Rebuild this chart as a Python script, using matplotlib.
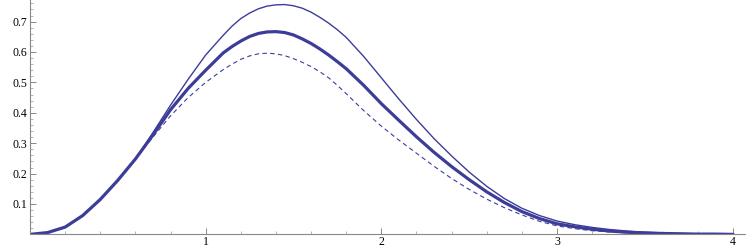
import numpy as np
import matplotlib
matplotlib.use("Agg")
import matplotlib.pyplot as plt
from matplotlib.ticker import MultipleLocator, FixedLocator

# sample points (denser around the peaks)
x = [0.0, 0.1, 0.2, 0.3, 0.4, 0.5, 0.6, 0.7, 0.8, 0.9, 1.0,
     1.1, 1.15, 1.2, 1.25, 1.3, 1.35, 1.4, 1.45, 1.5, 1.55, 1.6, 1.65,
     1.7, 1.75, 1.8,
     1.9, 2.0, 2.1, 2.2, 2.3, 2.4, 2.5, 2.6, 2.7, 2.8, 2.9, 3.0,
     3.1, 3.2, 3.3, 3.4, 3.5, 3.6, 3.7, 3.8, 3.9, 4.0]

shared = [0.0, 0.006, 0.024, 0.062, 0.115, 0.178, 0.248]

thin = shared + [0.335, 0.425, 0.51, 0.59,
                 0.655, 0.685, 0.71, 0.728, 0.742, 0.751, 0.755, 0.756,
                 0.752, 0.744, 0.731, 0.714, 0.695, 0.673, 0.648,
                 0.585, 0.515, 0.445, 0.378, 0.315, 0.258, 0.205, 0.158,
                 0.118, 0.086, 0.062, 0.044, 0.032, 0.023, 0.016, 0.011,
                 0.007, 0.005, 0.003, 0.002, 0.001, 0.001]

thick = shared + [0.327, 0.41, 0.48, 0.54,
                  0.597, 0.618, 0.636, 0.651, 0.661, 0.666, 0.667, 0.664,
                  0.656, 0.643, 0.628, 0.61, 0.59, 0.568, 0.545,
                  0.49, 0.43, 0.375, 0.321, 0.27, 0.223, 0.18, 0.14,
                  0.105, 0.075, 0.052, 0.035, 0.025, 0.017, 0.011, 0.007,
                  0.005, 0.003, 0.002, 0.001, 0.001, 0.0]

dashed = shared + [0.32, 0.39, 0.45, 0.5,
                   0.542, 0.56, 0.576, 0.587, 0.594, 0.596, 0.594, 0.588,
                   0.578, 0.566, 0.552, 0.535, 0.515, 0.49, 0.463,
                   0.407, 0.356, 0.31, 0.267, 0.224, 0.184, 0.148, 0.116,
                   0.088, 0.064, 0.043, 0.028, 0.019, 0.012, 0.008, 0.005,
                   0.003, 0.002, 0.001, 0.001, 0.0, 0.0]

xticks = [1, 2, 3, 4]
yticks = [0.1, 0.2, 0.3, 0.4, 0.5, 0.6, 0.7]

col = "#3d3d99"
W, H = 747, 249
fig = plt.figure(figsize=(W / 100, H / 100), dpi=100)
ax = fig.add_axes([30 / W, 14.6 / H, 715 / W, 234.4 / H])

ax.plot(x, thin, color=col, lw=1.0, solid_joinstyle="round")
ax.plot(x, thick, color=col, lw=2.3, solid_joinstyle="round")
ax.plot(x, dashed, color=col, lw=0.8, dashes=(4, 3))

ax.set_xlim(0, 4.07)
ax.set_ylim(0, 0.771)

for s in ["top", "right"]:
    ax.spines[s].set_visible(False)
for s in ["left", "bottom"]:
    ax.spines[s].set_color("#888888")
    ax.spines[s].set_linewidth(0.8)

ax.xaxis.set_major_locator(FixedLocator(xticks))
ax.xaxis.set_minor_locator(MultipleLocator(0.2))
ax.yaxis.set_major_locator(FixedLocator(yticks))
ax.yaxis.set_minor_locator(MultipleLocator(0.02))
ax.set_xticklabels([str(t) for t in xticks])
ax.set_yticklabels([str(t) for t in yticks])

ax.tick_params(which="major", direction="in", color="#888888", length=4,
               width=0.7, labelsize=8.5, labelcolor="black")
ax.tick_params(which="minor", direction="in", color="#aaaaaa", length=2.2,
               width=0.6)
ax.tick_params(axis="x", pad=1)
ax.tick_params(axis="y", pad=2)
for lab in ax.get_xticklabels() + ax.get_yticklabels():
    lab.set_fontfamily("Liberation Serif")

fig.savefig("out.png", dpi=100)
